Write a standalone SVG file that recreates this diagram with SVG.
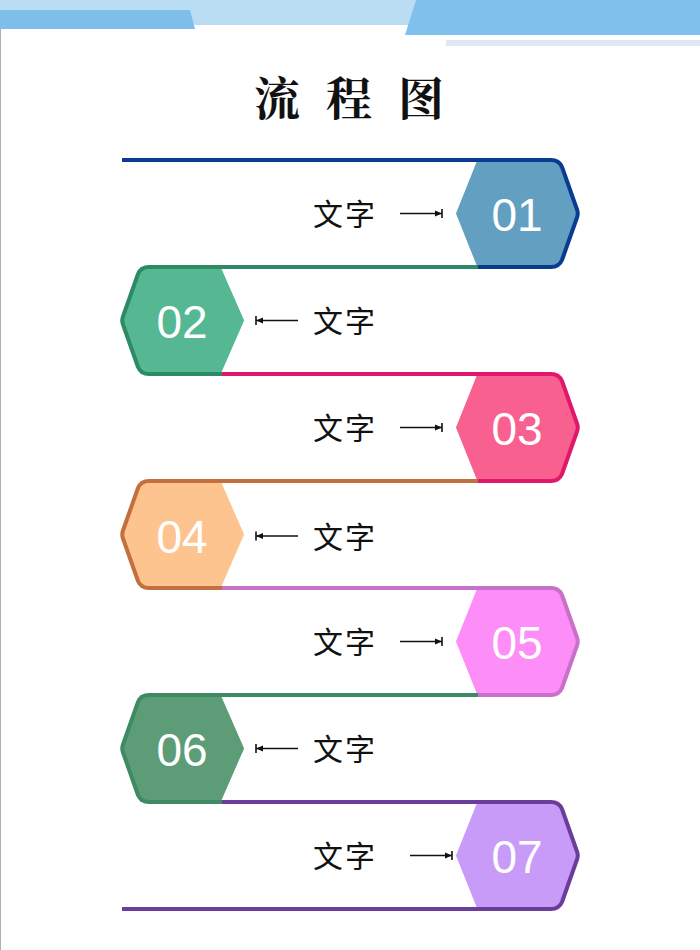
<svg xmlns="http://www.w3.org/2000/svg" width="700" height="950" viewBox="0 0 700 950">
<style>
.track{fill:none;stroke-width:4;stroke-linejoin:round;stroke-linecap:butt}
.hex{stroke-width:2;stroke-linejoin:round}
.num{font-family:"Liberation Sans",Arial,sans-serif;font-size:46px;fill:#ffffff;text-anchor:middle}
.lbl{font-family:"Noto Sans CJK SC","Noto Sans",sans-serif;font-size:30px;fill:#111111;letter-spacing:2px}
.arr{stroke:#111111;stroke-width:1.6;fill:none}
.title{font-family:"Noto Serif CJK SC","Noto Sans CJK SC",serif;font-size:46px;font-weight:bold;fill:#111111}
</style>
<defs>
<marker id="tee" viewBox="-8 -5 9 10" markerWidth="9" markerHeight="10" refX="0" refY="0" orient="auto" markerUnits="userSpaceOnUse">
<path d="M0,0 L-7,-3 L-7,3 Z" fill="#111111"/>
<path d="M0,-4.5 V4.5" stroke="#111111" stroke-width="1.6"/>
</marker>
</defs>
<rect x="0" y="0" width="700" height="950" fill="#ffffff"/>
<line x1="0.5" y1="0" x2="0.5" y2="950" stroke="#b0b0b0" stroke-width="1"/>
<g id="header">
<polygon points="0,0 418,0 423,25 0,25" fill="#bbddf3"/>
<polygon points="0,10 190,10 195,29 0,29" fill="#7dbeeb"/>
<polygon points="416,0 700,0 700,35 405,35" fill="#80c0ec"/>
<polygon points="446,40 700,40 700,46 446,46" fill="#e1e8f2"/>
</g>
<g id="title">
<text class="title" x="254 326 398" y="115">流程图</text>
</g>
<g id="node-01">
<polygon class="hex" fill="#639fc0" stroke="#639fc0" points="478,161 558,161 577,213.5 558,266 478,266 457,213.5"/>
<text class="num" x="517" y="230.5">01</text>
<text class="lbl" x="313" y="225">文字</text>
</g>
<g id="node-02">
<polygon class="hex" fill="#55b893" stroke="#55b893" points="141,268 220,268 243,320.5 220,373 141,373 123,320.5"/>
<text class="num" x="182" y="337.5">02</text>
<text class="lbl" x="313" y="332">文字</text>
</g>
<g id="node-03">
<polygon class="hex" fill="#f8608f" stroke="#f8608f" points="478,375 558,375 577,427.5 558,480 478,480 457,427.5"/>
<text class="num" x="517" y="444.5">03</text>
<text class="lbl" x="313" y="439">文字</text>
</g>
<g id="node-04">
<polygon class="hex" fill="#fdc48f" stroke="#fdc48f" points="141,482 220,482 243,534.5 220,587 141,587 123,534.5"/>
<text class="num" x="182" y="553">04</text>
<text class="lbl" x="313" y="547.5">文字</text>
</g>
<g id="node-05">
<polygon class="hex" fill="#fd8df7" stroke="#fd8df7" points="478,589 558,589 577,641.5 558,694 478,694 457,641.5"/>
<text class="num" x="517" y="658.5">05</text>
<text class="lbl" x="313" y="653">文字</text>
</g>
<g id="node-06">
<polygon class="hex" fill="#5c9d78" stroke="#5c9d78" points="141,696 220,696 243,748.5 220,801 141,801 123,748.5"/>
<text class="num" x="182" y="765.5">06</text>
<text class="lbl" x="313" y="760">文字</text>
</g>
<g id="node-07">
<polygon class="hex" fill="#c99bf8" stroke="#c99bf8" points="478,803 558,803 577,855.5 558,908 478,908 457,855.5"/>
<text class="num" x="517" y="872.5">07</text>
<text class="lbl" x="313" y="867">文字</text>
</g>
<g id="connectors">
<path class="track" stroke="#0b3b8f" d="M122 160 H551 Q559 160 562 167 L577 209.5 Q578.5 213.5 577 217.5 L562 260 Q559 267 551 267 H478"/>
<path class="track" stroke="#2e8a66" d="M478 267 H149 Q141 267 138 274 L123 316.5 Q121.5 320.5 123 324.5 L138 367 Q141 374 149 374 H222"/>
<path class="track" stroke="#e0176b" d="M222 374 H551 Q559 374 562 381 L577 423.5 Q578.5 427.5 577 431.5 L562 474 Q559 481 551 481 H478"/>
<path class="track" stroke="#c2703d" d="M478 481 H149 Q141 481 138 488 L123 530.5 Q121.5 534.5 123 538.5 L138 581 Q141 588 149 588 H222"/>
<path class="track" stroke="#c771c9" d="M222 588 H551 Q559 588 562 595 L577 637.5 Q578.5 641.5 577 645.5 L562 688 Q559 695 551 695 H478"/>
<path class="track" stroke="#3e8a62" d="M478 695 H149 Q141 695 138 702 L123 744.5 Q121.5 748.5 123 752.5 L138 795 Q141 802 149 802 H222"/>
<path class="track" stroke="#6a3d9b" d="M222 802 H551 Q559 802 562 809 L577 851.5 Q578.5 855.5 577 859.5 L562 902 Q559 909 551 909 H122"/>
<line class="arr" x1="400" y1="213.5" x2="442" y2="213.5" marker-end="url(#tee)"/>
<line class="arr" x1="298" y1="320.5" x2="256" y2="320.5" marker-end="url(#tee)"/>
<line class="arr" x1="400" y1="427.5" x2="442" y2="427.5" marker-end="url(#tee)"/>
<line class="arr" x1="298" y1="536" x2="256" y2="536" marker-end="url(#tee)"/>
<line class="arr" x1="400" y1="641.5" x2="442" y2="641.5" marker-end="url(#tee)"/>
<line class="arr" x1="298" y1="748.5" x2="256" y2="748.5" marker-end="url(#tee)"/>
<line class="arr" x1="410" y1="855.5" x2="452" y2="855.5" marker-end="url(#tee)"/>
</g>
</svg>
